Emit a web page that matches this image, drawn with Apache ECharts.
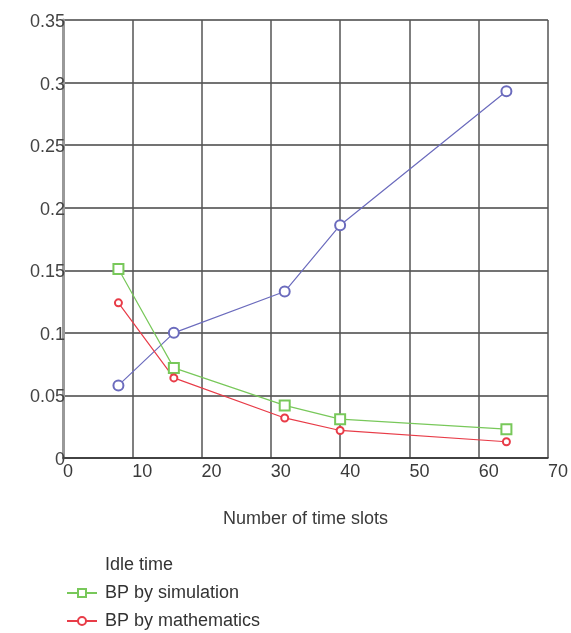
<!DOCTYPE html>
<html><head><meta charset="utf-8">
<script src="https://cdn.jsdelivr.net/npm/echarts@6/dist/echarts.min.js"></script>
<style>html,body{margin:0;padding:0;background:#fff}#c{width:571px;height:633px}</style>
</head><body><div id="c"></div>
<script>
var xSlots = [8, 16, 32, 40, 64];
var idleTime = [0.058, 0.100, 0.133, 0.186, 0.293];
var bpSimulation = [0.151, 0.072, 0.042, 0.031, 0.023];
var bpMathematics = [0.124, 0.064, 0.032, 0.022, 0.013];
var seriesNames = ['Idle time', 'BP by simulation', 'BP by mathematics'];
var xTitle = 'Number of time slots';

function pairs(ys){ return xSlots.map(function(x,i){ return [x, ys[i]]; }); }
var FONT = '"Liberation Sans Narrow", "Liberation Sans", Arial, sans-serif';
var chart = echarts.init(document.getElementById('c'));
chart.setOption({
  backgroundColor: '#fff',
  animation: false,
  grid: {left: 63, top: 20, right: 21, bottom: 175, containLabel: false},
  xAxis: {
    type: 'value', min: 0, max: 70, interval: 10,
    name: xTitle, nameLocation: 'middle', nameGap: 52,
    nameTextStyle: {fontFamily: FONT, fontSize: 18, color: '#3a3a3a'},
    axisLine: {show: true, lineStyle: {color: '#333', width: 1.5}},
    axisTick: {show: false},
    axisLabel: {fontFamily: FONT, fontSize: 18, color: '#3a3a3a', align: 'left', padding: [0,0,0,0], margin: 5},
    splitLine: {show: true, lineStyle: {color: '#555', width: 1.5}}
  },
  yAxis: {
    type: 'value', min: 0, max: 0.35, interval: 0.05,
    axisLine: {show: true, lineStyle: {color: '#999', width: 3}},
    axisTick: {show: false},
    axisLabel: {fontFamily: FONT, fontSize: 18, color: '#444', margin: -2, verticalAlign: 'top', padding: [-7,0,0,0],
      formatter: function(v){ return String(+v.toFixed(2)); }},
    splitLine: {show: true, lineStyle: {color: '#444', width: 1.5}}
  },
  legend: {
    orient: 'vertical', left: 66, top: 556, height: 120, itemGap: 10, itemWidth: 30, itemHeight: 10,
    padding: 0,
    textStyle: {fontFamily: FONT, fontSize: 18, color: '#333', padding: [0,0,0,3]},
    data: [
      {name: seriesNames[0], itemStyle: {opacity: 0}, lineStyle: {opacity: 0}},
      {name: seriesNames[1]},
      {name: seriesNames[2]}
    ]
  },
  series: [
    {name: seriesNames[0], type: 'line', data: pairs(idleTime), symbol: 'emptyCircle', symbolSize: 10,
      lineStyle: {color: '#6b6bbd', width: 1.2}, itemStyle: {color: '#6b6bbd', borderWidth: 1.2}},
    {name: seriesNames[1], type: 'line', data: pairs(bpSimulation), symbol: 'emptyRect', symbolSize: 10,
      lineStyle: {color: '#78c85a', width: 1.2}, itemStyle: {color: '#78c85a', borderWidth: 1.2}},
    {name: seriesNames[2], type: 'line', data: pairs(bpMathematics), symbol: 'emptyCircle', symbolSize: 7,
      lineStyle: {color: '#e83c48', width: 1.2}, itemStyle: {color: '#e83c48', borderWidth: 1.2}}
  ]
});
</script></body></html>
